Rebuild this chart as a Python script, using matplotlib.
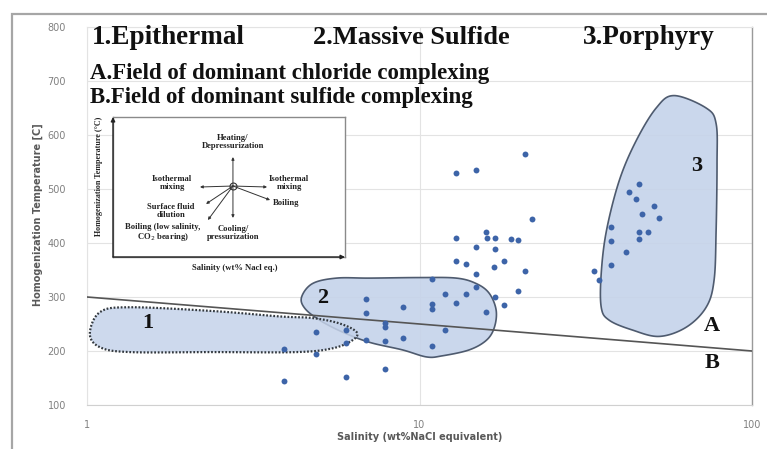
import numpy as np
import matplotlib
matplotlib.use("Agg")
import matplotlib.pyplot as plt
from matplotlib.patches import Polygon, Rectangle

# ---------------- data ----------------
# fluid inclusions (epithermal / massive sulfide group)
ms_salinity = [20.8, 12.9, 14.8, 21.8, 12.9, 15.9, 16.0, 16.9, 18.8, 19.8, 14.8, 16.9,
               12.9, 13.8, 16.8, 17.9, 20.8, 14.8, 10.9, 19.8, 14.8, 11.9, 13.8, 16.9,
               12.9, 17.9, 15.9, 6.9, 10.9, 10.9, 8.9, 6.9, 7.9, 7.9, 11.9, 4.9, 6.0,
               8.9, 6.9, 7.9, 6.0, 10.9, 3.9, 4.9, 7.9, 6.0, 3.9]
ms_temperature = [565, 530, 536, 445, 410, 420, 410, 410, 408, 405, 392, 388,
                  366, 362, 355, 366, 348, 342, 334, 312, 318, 305, 305, 300,
                  288, 285, 272, 296, 287, 277, 281, 270, 251, 244, 238, 236, 238,
                  225, 220, 218, 214, 209, 203, 194, 166, 152, 144]
# porphyry group
po_salinity = [45.8, 42.7, 44.8, 50.8, 46.7, 52.6, 37.7, 45.8, 48.7, 45.8, 37.7,
               41.8, 37.7, 33.5, 34.7]
po_temperature = [510, 495, 482, 469, 453, 447, 429, 420, 421, 407, 403,
                  383, 360, 348, 331]

# field outlines (salinity, temperature)
field1_sal = [1.02, 1.094, 1.346, 2.39, 3.80, 4.77, 5.75, 6.47, 6.29, 5.48, 4.27, 2.39, 1.346, 1.094]
field1_temp = [232, 272, 281, 274, 264, 261, 251, 235, 220, 205, 198, 198, 198, 207]
field2_sal = [4.42, 4.77, 5.63, 7.08, 10.0, 12.9, 14.8, 16.2, 17.0, 16.8, 15.9, 14.1,
              11.7, 10.5, 8.89, 7.08, 5.87, 5.01, 4.52]
field2_temp = [300, 325, 335, 335, 336, 335, 325, 307, 276, 244, 220, 202,
               191, 189, 202, 216, 235, 257, 279]
field3_sal = [58.3, 72.8, 78.0, 78.5, 78.0, 76.9, 72.8, 63.4, 52.6, 43.6, 37.2, 35.2,
              35.2, 36.5, 39.9, 44.8, 51.5]
field3_temp = [673, 650, 621, 547, 423, 331, 281, 244, 227, 239, 257, 281,
               344, 423, 516, 589, 650]

# chloride / sulfide complexing boundary
boundary_sal = [1, 100]
boundary_temp = [300, 200]

x_ticks = [1, 10, 100]
x_ticklabels = ["1", "10", "100"]
y_ticks = [100, 200, 300, 400, 500, 600, 700, 800]

# ---------------- helpers ----------------
W, H = 767, 449


def fx(px):
    return px / W


def fy(py):
    return 1 - py / H


def smooth_closed(xs, ys, n=20):
    """Closed Catmull-Rom outline in (log10 salinity, temperature) space."""
    lx = np.log10(np.asarray(xs, float))
    yy = np.asarray(ys, float)
    m = len(lx)
    ox, oy = [], []
    for i in range(m):
        p0 = np.array([lx[(i - 1) % m], yy[(i - 1) % m]])
        p1 = np.array([lx[i], yy[i]])
        p2 = np.array([lx[(i + 1) % m], yy[(i + 1) % m]])
        p3 = np.array([lx[(i + 2) % m], yy[(i + 2) % m]])
        for t in np.linspace(0, 1, n, endpoint=False):
            t2, t3 = t * t, t * t * t
            pt = 0.5 * ((2 * p1) + (-p0 + p2) * t + (2 * p0 - 5 * p1 + 4 * p2 - p3) * t2
                        + (-p0 + 3 * p1 - 3 * p2 + p3) * t3)
            ox.append(pt[0])
            oy.append(pt[1])
    return np.column_stack([10 ** np.array(ox), np.array(oy)])


# ---------------- figure ----------------
fig = plt.figure(figsize=(W / 100, H / 100), dpi=100)
fig.patch.set_facecolor("white")

# outer frame
fig.add_artist(Rectangle((fx(12), -0.2), 1.3, fy(14) + 0.2, transform=fig.transFigure,
                         fill=False, ec="#a6a6a6", lw=1.6))

ax = fig.add_axes([fx(87), fy(405), fx(752) - fx(87), fy(27) - fy(405)])
ax.set_xscale("log")
ax.set_xlim(1, 100)
ax.set_ylim(100, 800)
ax.set_xticks(x_ticks)
ax.set_xticklabels(x_ticklabels)
ax.set_yticks(y_ticks)
ax.minorticks_off()
ax.tick_params(length=0, labelsize=7, colors="#808080")
ax.tick_params(axis="y", pad=15)
ax.tick_params(axis="x", pad=11)
ax.grid(True, color="#e3e3e3", lw=0.8)
ax.set_axisbelow(True)
for s in ["top", "left"]:
    ax.spines[s].set_color("#e3e3e3")
    ax.spines[s].set_linewidth(0.8)
ax.spines["bottom"].set_color("#d0d0d0")
ax.spines["right"].set_color("#9a9a9a")
ax.spines["right"].set_linewidth(1.0)

fill_c = "#c5d3ea"
edge_c = "#3e4b60"
ax.add_patch(Polygon(smooth_closed(field2_sal, field2_temp), closed=True, fc=fill_c,
                     ec=edge_c, lw=1.2, alpha=0.9, zorder=2))
ax.add_patch(Polygon(smooth_closed(field3_sal, field3_temp), closed=True, fc=fill_c,
                     ec=edge_c, lw=1.2, alpha=0.9, zorder=2))
ax.add_patch(Polygon(smooth_closed(field1_sal, field1_temp), closed=True, fc=fill_c,
                     ec="none", alpha=0.85, zorder=2))
ax.add_patch(Polygon(smooth_closed(field1_sal, field1_temp), closed=True, fill=False,
                     ec="#33393f", lw=1.6, ls=(0, (0.8, 0.8)), zorder=3))

ax.plot(boundary_sal, boundary_temp, color="#555555", lw=1.2, zorder=3)

ax.scatter(ms_salinity, ms_temperature, s=18, color="#3d64a8", zorder=5, lw=0)
ax.scatter(po_salinity, po_temperature, s=18, color="#3d64a8", zorder=5, lw=0)

serif = ["Liberation Serif", "DejaVu Serif"]
for lab, xv, yv in [("1", 1.525, 251), ("2", 5.11, 299), ("3", 68.4, 543),
                    ("A", 75.9, 246), ("B", 75.9, 177)]:
    ax.text(xv, yv, lab, family=serif, weight="bold", fontsize=16, ha="center",
            va="center", color="#111111", zorder=6)

# titles
fig.text(fx(92), fy(38), "1.Epithermal", family=serif, weight="bold", fontsize=19.5,
         va="center", ha="left", color="#111111")
fig.text(fx(313), fy(38), "2.Massive Sulfide", family=serif, weight="bold", fontsize=19,
         va="center", ha="left", color="#111111")
fig.text(fx(583), fy(38), "3.Porphyry", family=serif, weight="bold", fontsize=19.5,
         va="center", ha="left", color="#111111")
fig.text(fx(90), fy(74), "A.Field of dominant chloride complexing", family=serif,
         weight="bold", fontsize=16.5, va="center", ha="left", color="#111111")
fig.text(fx(90), fy(97), "B.Field of dominant sulfide complexing", family=serif,
         weight="bold", fontsize=16.5, va="center", ha="left", color="#111111")

# axis titles
fig.text(fx(38), fy(215), "Homogenization Temperature [C]", rotation=90, fontsize=7,
         ha="center", va="center", color="#595959", weight="bold")
fig.text(fx(420), fy(437), "Salinity (wt%NaCl equivalent)", fontsize=7,
         ha="center", va="center", color="#595959", weight="bold")

# ---------------- inset ----------------
ix0, iy0, ix1, iy1 = 113, 117, 345, 257
ins = fig.add_axes([fx(ix0), fy(iy1), fx(ix1) - fx(ix0), fy(iy0) - fy(iy1)])
ins.set_xlim(0, 1)
ins.set_ylim(0, 1)
ins.set_xticks([])
ins.set_yticks([])
ins.patch.set_facecolor("white")
for s in ins.spines.values():
    s.set_color("#8a8a8a")
    s.set_linewidth(1.0)
ins.annotate("", xy=(0, 1.0), xytext=(0, 0), xycoords="axes fraction",
             arrowprops=dict(arrowstyle="-|>", color="#222222", lw=1.0, mutation_scale=6,
                             shrinkA=0, shrinkB=0))
ins.annotate("", xy=(1.0, 0), xytext=(0, 0), xycoords="axes fraction",
             arrowprops=dict(arrowstyle="-|>", color="#222222", lw=1.0, mutation_scale=6,
                             shrinkA=0, shrinkB=0))

cx, cy = 0.517, 0.507
ends = [(0.517, 0.714), (0.375, 0.50), (0.664, 0.50), (0.517, 0.279),
        (0.401, 0.379), (0.409, 0.264), (0.677, 0.407)]
for ex, ey in ends:
    ins.annotate("", xy=(ex, ey), xytext=(cx, cy),
                 arrowprops=dict(arrowstyle="-|>", color="#333333", lw=0.7,
                                 mutation_scale=4, shrinkA=0, shrinkB=0))
ins.plot([cx], [cy], marker="o", ms=5, mfc="white", mec="#333333", mew=0.8)

ifs = 6.2
for txt, tx, ty in [("Heating/\nDepressurization", 0.517, 0.821),
                    ("Isothermal\nmixing", 0.255, 0.529),
                    ("Isothermal\nmixing", 0.76, 0.529),
                    ("Boiling", 0.745, 0.386),
                    ("Surface fluid\ndilution", 0.25, 0.329),
                    ("Boiling (low salinity,\nCO$_2$ bearing)", 0.215, 0.175),
                    ("Cooling/\npressurization", 0.52, 0.175)]:
    ins.text(tx, ty, txt, family=serif, weight="bold", fontsize=ifs, ha="center",
             va="center", color="#222222", linespacing=1.0)

fig.text(fx(235), fy(268), "Salinity (wt% Nacl eq.)", family=serif, weight="bold",
         fontsize=ifs, ha="center", va="center", color="#222222")
fig.text(fx(99), fy(176), "Homogenization Temperature (\u00b0C)", family=serif,
         weight="bold", fontsize=5.8, rotation=90, ha="center", va="center",
         color="#222222")

fig.savefig("out.png", dpi=100)
